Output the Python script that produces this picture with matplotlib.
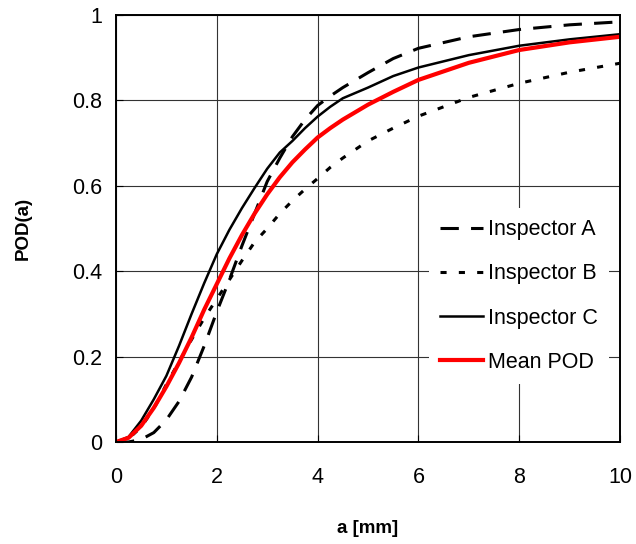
import numpy as np
import matplotlib
matplotlib.use("Agg")
import matplotlib.pyplot as plt
from matplotlib.ticker import FormatStrFormatter

plt.rcParams["font.family"] = ["Liberation Sans", "DejaVu Sans"]

a_mm = [0, 0.25, 0.5, 0.75, 1, 1.25, 1.5, 1.75, 2, 2.25, 2.5, 2.75, 3,
        3.25, 3.5, 3.75, 4, 4.25, 4.5, 5, 5.5, 6, 7, 8, 9, 10]

pod_a = [0, 0.0, 0.006, 0.022, 0.052, 0.095, 0.152, 0.225, 0.305, 0.38, 0.46,
         0.535, 0.61, 0.665, 0.715, 0.755, 0.788, 0.81, 0.83, 0.865, 0.898,
         0.922, 0.949, 0.966, 0.977, 0.984]
pod_b = [0, 0.008, 0.035, 0.078, 0.135, 0.188, 0.24, 0.29, 0.335, 0.38, 0.425,
         0.468, 0.50, 0.535, 0.565, 0.592, 0.617, 0.643, 0.665, 0.705, 0.735,
         0.763, 0.807, 0.84, 0.866, 0.887]
pod_c = [0, 0.012, 0.05, 0.10, 0.155, 0.225, 0.30, 0.372, 0.44, 0.497, 0.548,
         0.595, 0.64, 0.678, 0.705, 0.735, 0.762, 0.785, 0.805, 0.83, 0.857,
         0.877, 0.906, 0.928, 0.943, 0.955]
pod_mean = [0, 0.01, 0.038, 0.08, 0.13, 0.185, 0.245, 0.31, 0.37, 0.43, 0.485,
            0.535, 0.58, 0.62, 0.655, 0.685, 0.713, 0.735, 0.755, 0.79, 0.82,
            0.848, 0.888, 0.918, 0.936, 0.949]

x_ticks = [0, 2, 4, 6, 8, 10]
y_ticks = [0, 0.2, 0.4, 0.6, 0.8, 1]

fig = plt.figure(figsize=(6.36, 5.44), dpi=100)
ax = fig.add_axes([116 / 636, 102 / 544, 504 / 636, 427 / 544])

ax.plot(a_mm, pod_a, color="black", lw=2.2, dashes=(6, 4), label="Inspector A")
ax.plot(a_mm, pod_b, color="black", lw=2.2, dashes=(2, 4), label="Inspector B")
ax.plot(a_mm, pod_c, color="black", lw=1.8, label="Inspector C")
ax.plot(a_mm, pod_mean, color="#ff0000", lw=3.0, label="Mean POD")

ax.set_xlim(0, 10)
ax.set_ylim(0, 1)
ax.set_xticks(x_ticks)
ax.set_yticks(y_ticks)
ax.xaxis.set_major_formatter(FormatStrFormatter("%g"))
ax.yaxis.set_major_formatter(FormatStrFormatter("%g"))
ax.grid(True, color="0.2", lw=0.8)
ax.set_axisbelow(True)
ax.tick_params(axis="both", direction="in", length=5, labelsize=15.5)
ax.tick_params(axis="x", pad=18)
ax.tick_params(axis="y", pad=10)
for s in ax.spines.values():
    s.set_linewidth(1.4)

ax.set_xlabel("a [mm]", fontsize=13.5, fontweight="bold", labelpad=23)
ax.set_ylabel("POD(a)", fontsize=13.5, fontweight="bold", labelpad=29)

leg = ax.legend(loc="center", bbox_to_anchor=(0.80, 0.342), fontsize=15.5,
                handlelength=2.0, handletextpad=0.25, labelspacing=1.08,
                borderpad=0.5, frameon=True, fancybox=False, framealpha=1)
leg.get_frame().set_edgecolor("none")
leg.get_frame().set_facecolor("white")

fig.savefig("out.png", dpi=100)
